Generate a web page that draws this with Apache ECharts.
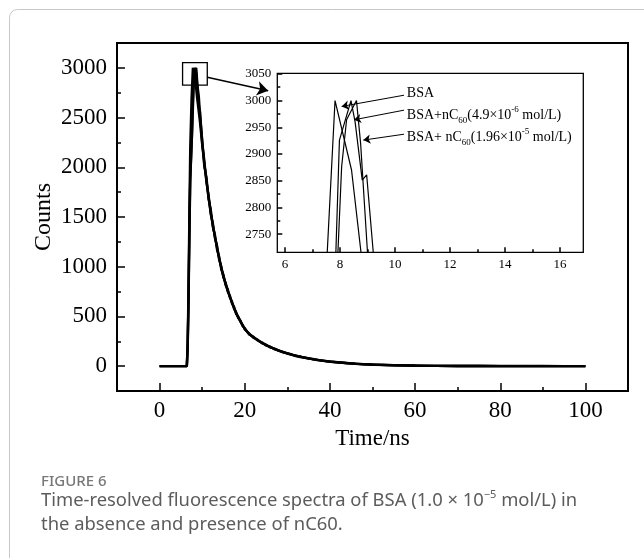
<!DOCTYPE html>
<html><head><meta charset="utf-8">
<script src="https://cdn.jsdelivr.net/npm/echarts@6/dist/echarts.min.js"></script>
<style>html,body{margin:0;padding:0;background:#fff}#c{width:644px;height:558px}</style>
</head><body><div id="c"></div>
<script>
// ---- data ----
const bsaHeadTime   = [0, 6.4, 6.6, 6.8, 7.0, 7.2, 7.5, 7.82, 8.42, 8.8, 9.2];
const bsaHeadCounts = [0, 0, 250, 800, 1550, 2200, 2680, 3000, 2870, 2700, 2560];
const c1HeadTime    = [0, 6.4, 6.6, 6.8, 7.0, 7.2, 7.6, 7.98, 8.4, 8.55, 8.81, 8.97, 9.21];
const c1HeadCounts  = [0, 0, 200, 700, 1400, 1900, 2310, 2926, 3000, 2960, 2851, 2861, 2716];
const c2HeadTime    = [0, 6.4, 6.6, 6.8, 7.0, 7.2, 7.7, 8.06, 8.24, 8.6, 8.75, 9.0, 9.3];
const c2HeadCounts  = [0, 0, 180, 650, 1300, 1850, 2450, 2876, 2964, 3000, 2920, 2716, 2600];

const tailTime = [9.5,10,10.5,11,11.5,12,12.5,13,13.5,14,14.5,15,15.5,16,16.5,17,17.5,18,18.5,19,19.5,20,
  21,22,23,24,25,26,27,28,29,30,31,32,33,34,35,36,37,38,39,40,
  42,44,46,48,50,55,60,65,70,75,80,85,90,95,100];
const bsaTail = [2450,2230,2040,1870,1700,1550,1420,1300,1190,1080,990,900,830,760,700,640,585,530,490,450,410,375,
  325,292,262,236,212,192,173,156,141,128,116,104,95,86,78,70,63,57,51,46,
  37,30,24,19,15,9,5,3,2,1,1,0,0,0,0];
const c1Tail = [2520,2280,2010,1900,1680,1580,1400,1320,1170,1100,970,920,815,775,690,650,575,540,482,458,404,382,
  320,298,258,240,208,196,170,159,138,131,113,107,92,88,76,72,61,58,50,47,
  38,29,25,18,16,8,6,3,2,1,0,1,0,0,0];
const c2Tail = [2560,2250,2070,1850,1720,1530,1440,1290,1210,1070,1000,890,840,750,710,630,595,525,495,445,415,370,
  330,287,266,232,216,188,176,153,144,125,119,101,97,84,80,68,65,55,52,44,
  39,31,23,20,14,10,4,3,1,2,0,0,1,0,0];

const seriesNames = ['BSA', 'BSA+nC60(4.9×10-6 mol/L)', 'BSA+ nC60(1.96×10-5 mol/L)'];
const mainXTicks = {min: 0, max: 100, interval: 20};
const mainYTicks = {min: 0, max: 3000, interval: 500};
const insetXTicks = {min: 6, max: 16, interval: 2};
const insetYTicks = {min: 2750, max: 3050, interval: 50};

// ---- build ----
function pairs(t, c) { return t.map((v, i) => [v, c[i]]); }
const dBSA = pairs(bsaHeadTime.concat(tailTime), bsaHeadCounts.concat(bsaTail));
const dC1  = pairs(c1HeadTime.concat(tailTime), c1HeadCounts.concat(c1Tail));
const dC2  = pairs(c2HeadTime.concat(tailTime), c2HeadCounts.concat(c2Tail));

const SERIF = '"Liberation Serif","Times New Roman",serif';
const black = '#000';

const chart = echarts.init(document.getElementById('c'), null, {renderer: 'canvas'});

const G0 = {left: 117, top: 43, width: 511, height: 348};
const xr0 = [-10, 110], yr0 = [-250, 3250];
const sx0 = G0.width / (xr0[1] - xr0[0]), sy0 = G0.height / (yr0[1] - yr0[0]);
const G1 = {
  left: G0.left + (mainXTicks.min - xr0[0]) * sx0,
  width: (mainXTicks.max - mainXTicks.min) * sx0,
  top: G0.top + (yr0[1] - mainYTicks.max) * sy0,
  height: (mainYTicks.max - mainYTicks.min) * sy0
};
const G2 = {left: 277.3, top: 73.3, width: 306, height: 179};
const xr2 = [5.72, 16.85], yr2 = [2716, 3051];
const sx2 = G2.width / (xr2[1] - xr2[0]), sy2 = G2.height / (yr2[1] - yr2[0]);
const G3 = {
  left: G2.left + (insetXTicks.min - xr2[0]) * sx2,
  width: (insetXTicks.max - insetXTicks.min) * sx2,
  top: G2.top + (yr2[1] - insetYTicks.max) * sy2,
  height: (insetYTicks.max - insetYTicks.min) * sy2
};

function tickAxis(gridIndex, r, offset, major, minor, fs, margin, extra) {
  return Object.assign({
    type: 'value', gridIndex, min: r.min, max: r.max, interval: r.interval, offset,
    axisLine: {show: false, onZero: false},
    axisTick: {show: true, inside: true, length: major, lineStyle: {color: black, width: 1.5}},
    minorTick: {show: true, splitNumber: 2, length: minor, lineStyle: {color: black, width: 1.5}},
    splitLine: {show: false}, minorSplitLine: {show: false},
    axisLabel: {color: black, fontFamily: SERIF, fontSize: fs, margin, showMinLabel: true, showMaxLabel: true,
      formatter: v => String(v)}
  }, extra || {});
}

const richLbl = {
  a: {fontFamily: SERIF, fontSize: 14, color: black, lineHeight: 20},
  s: {fontFamily: SERIF, fontSize: 9, color: black, lineHeight: 20, verticalAlign: 'bottom'},
  p: {fontFamily: SERIF, fontSize: 9, color: black, lineHeight: 20, verticalAlign: 'top'}
};
const labelTexts = [
  '{a|BSA}',
  '{a|BSA+nC}{s|60}{a|(4.9×10}{p|-6}{a| mol/L)}',
  '{a|BSA+ nC}{s|60}{a|(1.96×10}{p|-5}{a| mol/L)}'
];
const labelPos = [[10.45, 3012], [10.45, 2971], [10.45, 2930]];
const arrowLines = [
  [[10.33, 3010], [8.06, 2989]],
  [[10.33, 2982], [8.51, 2964]],
  [[10.33, 2937], [8.85, 2926]]
];

function line(name, data, xi, yi, w, extra) {
  return Object.assign({
    name, type: 'line', data, xAxisIndex: xi, yAxisIndex: yi, showSymbol: false, symbol: 'none',
    lineStyle: {color: black, width: w}, clip: true, silent: true, animation: false
  }, extra || {});
}

const option = {
  animation: false,
  backgroundColor: '#fff',
  grid: [
    Object.assign({show: true, borderColor: black, borderWidth: 2, backgroundColor: 'transparent'}, G0),
    Object.assign({show: false}, G1),
    Object.assign({show: true, borderColor: black, borderWidth: 1.3, backgroundColor: 'transparent'}, G2),
    Object.assign({show: false}, G3)
  ],
  xAxis: [
    {type: 'value', gridIndex: 0, min: xr0[0], max: xr0[1], show: false},
    tickAxis(1, mainXTicks, G0.top + G0.height - (G1.top + G1.height), 8, 4, 23, 8,
      {name: 'Time/ns', nameLocation: 'middle', nameGap: 36,
       nameTextStyle: {fontFamily: SERIF, fontSize: 23, color: black}}),
    {type: 'value', gridIndex: 2, min: xr2[0], max: xr2[1], show: false},
    tickAxis(3, insetXTicks, G2.top + G2.height - (G3.top + G3.height), 5, 3, 13, 6)
  ],
  yAxis: [
    {type: 'value', gridIndex: 0, min: yr0[0], max: yr0[1], show: false},
    tickAxis(1, mainYTicks, G1.left - G0.left, 8, 4, 23, 10,
      {name: 'Counts', nameLocation: 'middle', nameGap: 61, nameRotate: 90, nameMoveOverlap: false,
       nameTextStyle: {fontFamily: SERIF, fontSize: 24, color: black}}),
    {type: 'value', gridIndex: 2, min: yr2[0], max: yr2[1], show: false},
    tickAxis(3, insetYTicks, G3.left - G2.left, 5, 3, 13, 6)
  ],
  series: [
    line(seriesNames[0], dBSA, 0, 0, 2.4, {
      markArea: {silent: true, itemStyle: {color: 'rgba(0,0,0,0)', borderColor: black, borderWidth: 1.3},
        data: [[{coord: [5.4, 3052]}, {coord: [11.2, 2827]}]]},
      markLine: {silent: true, symbol: ['none', 'arrow'], symbolSize: 11, label: {show: false},
        lineStyle: {color: black, width: 1.5, type: 'solid'},
        data: [[{coord: [11.2, 2905]}, {coord: [25.5, 2770]}]]}
    }),
    line(seriesNames[1], dC1, 0, 0, 2.4),
    line(seriesNames[2], dC2, 0, 0, 2.4),
    line(seriesNames[0], dBSA, 2, 2, 1.2, {
      markLine: {silent: true, symbol: ['none', 'arrow'], symbolSize: 7, label: {show: false},
        lineStyle: {color: black, width: 1, type: 'solid'},
        data: arrowLines.map(l => [{coord: l[0]}, {coord: l[1]}])},
      markPoint: {silent: true, symbol: 'circle', symbolSize: 1, itemStyle: {color: 'rgba(0,0,0,0)'},
        data: labelPos.map((p, i) => ({coord: p, label: {show: true, position: [0, 0], align: 'left',
          verticalAlign: 'middle', formatter: labelTexts[i], rich: richLbl}}))}
    }),
    line(seriesNames[1], dC1, 2, 2, 1.2),
    line(seriesNames[2], dC2, 2, 2, 1.2)
  ],
  graphic: [
    {type: 'rect', silent: true, shape: {x: 9.5, y: 9.5, width: 700, height: 700, r: 8},
     style: {fill: 'none', stroke: '#c8c8c8', lineWidth: 1}},
    {type: 'text', silent: true, x: 41, y: 482,
     style: {text: 'FIGURE 6', font: '500 15px "Noto Sans", sans-serif', fill: '#777', verticalAlign: 'middle'}},
    {type: 'text', silent: true, x: 41, y: 501,
     style: {text: 'Time-resolved fluorescence spectra of BSA (1.0 × 10{p|−5} mol/L) in',
       font: '18.4px "Noto Sans", sans-serif', fill: '#5c5c5c', verticalAlign: 'middle',
       rich: {p: {font: '11px "Noto Sans", sans-serif', fill: '#5c5c5c', verticalAlign: 'top', lineHeight: 24}}}},
    {type: 'text', silent: true, x: 41, y: 525,
     style: {text: 'the absence and presence of nC60.', font: '18.4px "Noto Sans", sans-serif',
       fill: '#5c5c5c', verticalAlign: 'middle'}}
  ]
};
chart.setOption(option);
</script></body></html>
